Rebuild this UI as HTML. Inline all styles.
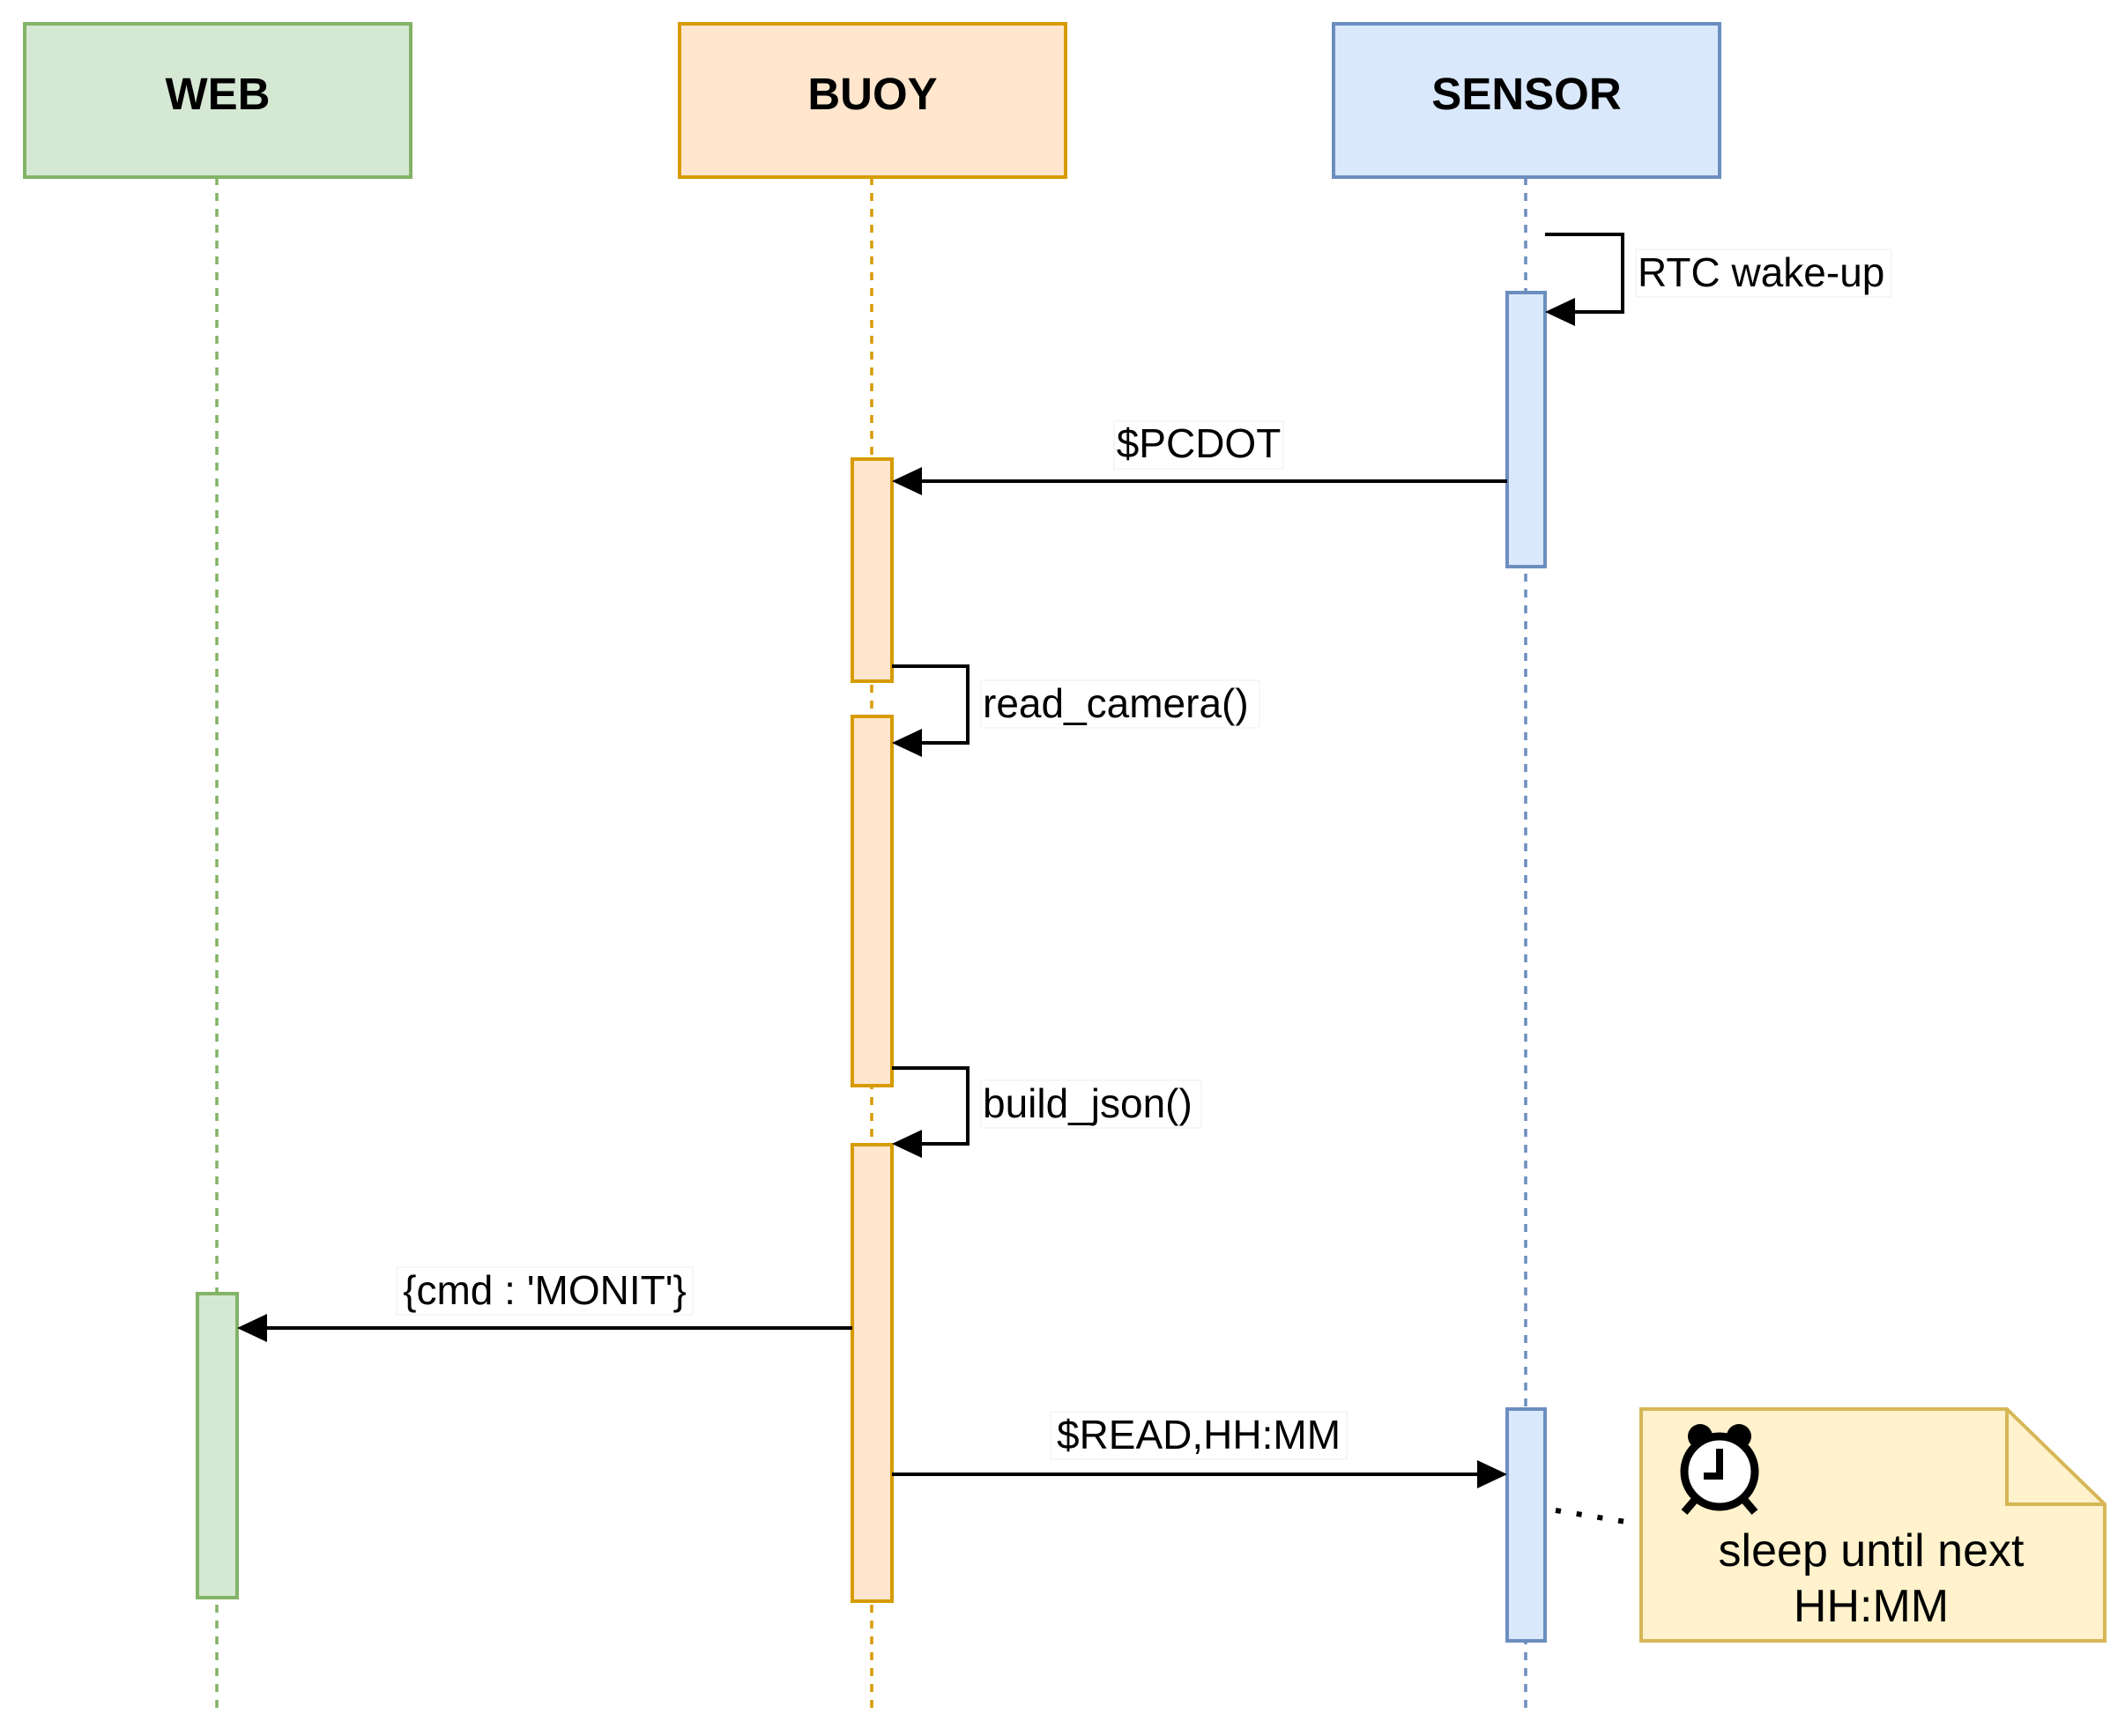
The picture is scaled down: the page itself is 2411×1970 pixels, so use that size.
<!DOCTYPE html>
<html><head><meta charset="utf-8"><style>
html,body{margin:0;padding:0;background:#fff}
svg text{font-family:"Liberation Sans",Arial,sans-serif}
</style></head><body>
<svg width="2411" height="1965" viewBox="0 0 2411 1965" xmlns="http://www.w3.org/2000/svg">
<!-- lifelines -->
<line x1="246" y1="201" x2="246" y2="1945" stroke="#82b366" stroke-width="3.5" stroke-dasharray="9,9"/>
<line x1="989" y1="201" x2="989" y2="1945" stroke="#d79b00" stroke-width="3.5" stroke-dasharray="9,9"/>
<line x1="1731" y1="201" x2="1731" y2="1945" stroke="#6c8ebf" stroke-width="3.5" stroke-dasharray="9,9"/>
<!-- headers -->
<rect x="28" y="27" width="438" height="174" fill="#d5e8d4" stroke="#82b366" stroke-width="4"/>
<rect x="771" y="27" width="438" height="174" fill="#ffe6cc" stroke="#d79b00" stroke-width="4"/>
<rect x="1513" y="27" width="438" height="174" fill="#dae8fc" stroke="#6c8ebf" stroke-width="4"/>
<text x="247" y="124" font-size="51" font-weight="bold" text-anchor="middle">WEB</text>
<text x="990" y="124" font-size="51" font-weight="bold" text-anchor="middle">BUOY</text>
<text x="1732" y="124" font-size="51" font-weight="bold" text-anchor="middle">SENSOR</text>
<!-- activations -->
<rect x="1710" y="332" width="43" height="311" fill="#dae8fc" stroke="#6c8ebf" stroke-width="4"/>
<rect x="1710" y="1599" width="43" height="263" fill="#dae8fc" stroke="#6c8ebf" stroke-width="4"/>
<rect x="967" y="521" width="45" height="252" fill="#ffe6cc" stroke="#d79b00" stroke-width="4"/>
<rect x="967" y="813" width="45" height="419" fill="#ffe6cc" stroke="#d79b00" stroke-width="4"/>
<rect x="967" y="1299" width="45" height="518" fill="#ffe6cc" stroke="#d79b00" stroke-width="4"/>
<rect x="224" y="1468" width="45" height="345" fill="#d5e8d4" stroke="#82b366" stroke-width="4"/>
<!-- RTC loop -->
<polyline points="1753,266 1841,266 1841,354 1785,354" fill="none" stroke="#000" stroke-width="4"/>
<polygon points="1753,354 1787,338 1787,370" fill="#000"/>
<rect x="1856" y="283" width="290" height="54" fill="#fff" stroke="#eee" stroke-width="1"/>
<text x="1858" y="325" font-size="46">RTC wake-up</text>
<!-- PCDOT -->
<line x1="1710" y1="546" x2="1044" y2="546" stroke="#000" stroke-width="4"/>
<polygon points="1012,546 1046,530 1046,562" fill="#000"/>
<rect x="1264" y="478" width="192" height="54" fill="#fff" stroke="#eee" stroke-width="1"/>
<text x="1360" y="519" font-size="46" text-anchor="middle">$PCDOT</text>
<!-- read_camera -->
<polyline points="1012,756 1098,756 1098,843 1044,843" fill="none" stroke="#000" stroke-width="4"/>
<polygon points="1012,843 1046,827 1046,859" fill="#000"/>
<rect x="1113" y="772" width="316" height="54" fill="#fff" stroke="#eee" stroke-width="1"/>
<text x="1115" y="814" font-size="46">read_camera()</text>
<!-- build_json -->
<polyline points="1012,1212 1098,1212 1098,1298 1044,1298" fill="none" stroke="#000" stroke-width="4"/>
<polygon points="1012,1298 1046,1282 1046,1314" fill="#000"/>
<rect x="1113" y="1226" width="250" height="54" fill="#fff" stroke="#eee" stroke-width="1"/>
<text x="1115" y="1268" font-size="46">build_json()</text>
<!-- MONIT -->
<line x1="967" y1="1507" x2="301" y2="1507" stroke="#000" stroke-width="4"/>
<polygon points="269,1507 303,1491 303,1523" fill="#000"/>
<rect x="450" y="1438" width="336" height="54" fill="#fff" stroke="#eee" stroke-width="1"/>
<text x="618" y="1480" font-size="46" text-anchor="middle">{cmd : 'MONIT'}</text>
<!-- READ -->
<line x1="1012" y1="1673" x2="1678" y2="1673" stroke="#000" stroke-width="4"/>
<polygon points="1710,1673 1676,1657 1676,1689" fill="#000"/>
<rect x="1192" y="1602" width="336" height="54" fill="#fff" stroke="#eee" stroke-width="1"/>
<text x="1360" y="1644" font-size="46" text-anchor="middle">$READ,HH:MM</text>
<!-- dotted -->
<line x1="1765" y1="1714" x2="1845" y2="1727" stroke="#000" stroke-width="6" stroke-dasharray="6,18"/>
<!-- note -->
<path d="M1862,1599 L2277,1599 L2388,1707 L2388,1862 L1862,1862 Z" fill="#fff2cc" stroke="#d6b656" stroke-width="4"/>
<path d="M2277,1599 L2277,1707 L2388,1707" fill="none" stroke="#d6b656" stroke-width="4"/>
<g transform="translate(1951,1670)">
<circle cx="-22" cy="-40" r="14" fill="#000"/>
<circle cx="22" cy="-40" r="14" fill="#000"/>
<circle cx="0" cy="0" r="40" fill="#fff" stroke="#000" stroke-width="9"/>
<polyline points="0,-26 0,5 -18,5" fill="none" stroke="#000" stroke-width="8"/>
<line x1="-28" y1="32" x2="-40" y2="46" stroke="#000" stroke-width="9"/>
<line x1="28" y1="32" x2="40" y2="46" stroke="#000" stroke-width="9"/>
</g>
<text x="2123" y="1777" font-size="52" text-anchor="middle">sleep until next</text>
<text x="2123" y="1840" font-size="52" text-anchor="middle">HH:MM</text>
</svg>
</body></html>
